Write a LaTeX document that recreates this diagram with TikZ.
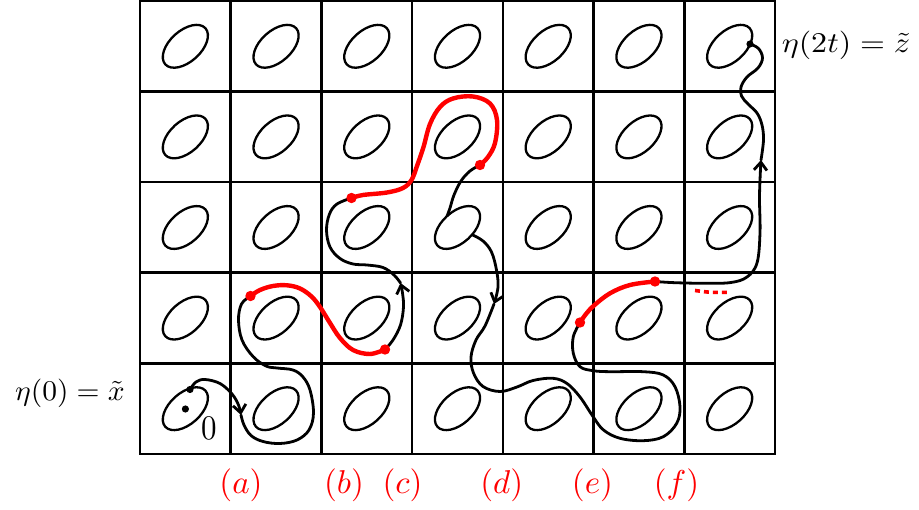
\documentclass[tikz,border=0pt]{standalone}
\usepackage{graphicx}
\usetikzlibrary{arrows.meta}
\tikzset{
  gridline/.style={line width=2.6pt, line cap=rect},
  cellell/.style={line width=2.3pt},
  trk/.style={line width=2.8pt, line cap=round, line join=round},
  redtrk/.style={line width=4.4pt, red, line cap=round, line join=round},
  barb/.style={-{Straight Barb[length=8pt,width=13pt]}},
  lab/.style={inner sep=0pt},
  redlab/.style={inner sep=0pt, text=red},
}
\begin{document}
\begin{tikzpicture}[x=1pt,y=-1pt]
\useasboundingbox (0,0) rectangle (919,510);
% grid
\draw[gridline] (140,1) rectangle (775,454);
\foreach \i in {1,...,6} \draw[gridline] ({140+90.714*\i},1) -- ({140+90.714*\i},454);
\foreach \j in {1,...,4} \draw[gridline] (140,{1+90.6*\j}) -- (775,{1+90.6*\j});
% ellipses (obstacles)
\foreach \i in {0,...,6} {
  \foreach \j in {0,...,4} {
    \pgfmathsetmacro\cx{140+90.714*(\i+0.5)}
    \pgfmathsetmacro\cy{1+90.6*(\j+0.5)}
    \draw[cellell, rotate around={42:(\cx,\cy)}] (\cx,\cy) ellipse [x radius=27pt, y radius=15.5pt];
  }
}
% key points
\coordinate (ctr) at (185.4,409);
\coordinate (p0) at (190,389.5);
\coordinate (a1) at (241,415);
\coordinate (r1) at (250.5,296);
\coordinate (r2) at (385,349.5);
\coordinate (a2) at (400.5,283);
\coordinate (r3) at (351.5,198);
\coordinate (r4) at (480,165);
\coordinate (lp) at (447.1,216);
\coordinate (lq) at (472.1,234.7);
\coordinate (a3) at (494,304);
\coordinate (r5) at (580,322.5);
\coordinate (r6) at (655,281.5);
\coordinate (a4) at (761,160);
\coordinate (pe) at (750,44);
% black segment from start
\draw[trk,barb] plot[smooth,tension=0.6] coordinates {(p0) (196,382) (205,379.5) (220,383.5) (232,394) (238.5,405) (a1)};
\draw[trk] plot[smooth,tension=0.6] coordinates {(a1) (244,425) (251,435.5) (263,441.5) (280,443.5) (297,440) (309,430) (313.5,413) (310,390) (303,377) (293,370) (277,368) (266,366) (253,356.5) (242,340) (238.5,320) (241.5,304) (r1)};
% red (a)-(b)
\draw[redtrk] plot[smooth,tension=0.6] coordinates {(r1) (260,290) (273,286) (287,285.3) (300,288.5) (311.5,296.5) (320,307) (330,323) (340,338) (353,350) (370,354) (r2)};
% black with up arrow
\draw[trk,barb] plot[smooth,tension=0.6] coordinates {(r2) (393,340) (400.5,325) (403.5,307) (402.5,293) (a2)};
\draw[trk] plot[smooth,tension=0.6] coordinates {(a2) (394,275) (383,267.5) (367,265) (353,264) (340,258.5) (330,247) (326.5,230) (329.5,214) (337,204) (r3)};
% red (c)
\draw[redtrk] plot[smooth,tension=0.6] coordinates {(r3) (363,195) (387,192.5) (403,188) (411.5,180) (417,166) (423.5,147) (430,124) (440,107) (453,98.5) (473,96.5) (490,103.5) (497,120) (495,143) (488,157) (r4)};
% black: down to the obstacle, around it, and away
\draw[trk] plot[smooth,tension=0.6] coordinates {(r4) (470,171) (461,181) (454,195) (450,208) (lp)};
\draw[trk,barb] plot[smooth,tension=0.6] coordinates {(lq) (483,241) (491.5,252) (496.5,270) (498,287) (a3)};
\draw[trk] plot[smooth,tension=0.6] coordinates {(a3) (485,326) (476,340) (471,357) (473.5,373) (483,386.5) (500,391.5) (517,387) (533,380.5) (553,378.3) (567,383.5) (580,397) (593,416.5) (603.5,430) (620,438.3) (643.3,440.7) (663.3,436.7) (676.7,423.3) (680,406.7) (675,386.7) (663.3,375) (643.3,371.7) (610,371.7) (593.3,370.7) (580,366.7) (573.3,353.3) (573.3,336.7) (r5)};
% red (e)
\draw[redtrk] plot[smooth,tension=0.6] coordinates {(r5) (586,314) (594,305.5) (610,293.3) (630,285) (r6)};
% black to end
\draw[trk,barb] plot[smooth,tension=0.6] coordinates {(r6) (675,282.7) (706,283.3) (731,282.5) (747,277) (757,263) (760,233) (759.5,200) (760,180) (a4)};
\draw[trk] plot[smooth,tension=0.6] coordinates {(a4) (763.5,140) (762,125) (757,113) (748,104) (741.5,96) (741,87) (747,77) (758,68) (762.5,58) (758.5,48.5) (pe)};
% red dotted
\draw[red, line width=3.6pt, dash pattern=on 5pt off 4pt] (695,290.5) .. controls (710,292.5) .. (728,292.3);
% dots
\fill (ctr) circle (3.6pt);
\fill (p0) circle (3.6pt);
\fill (pe) circle (3.6pt);
\foreach \p in {r1,r2,r3,r4,r5,r6} \fill[red] (\p) circle (5.2pt);
% labels
\node[lab] (lx) at (70,393) {\scalebox{2.95}[2.86]{$\eta(0)=\tilde{x}$}};
\node[lab] (lz) at (846,45) {\scalebox{3.2}[2.86]{$\eta(2t)=\tilde{z}$}};
\node[lab] (l0) at (209,428) {\scalebox{3.1}[3.45]{0}};
\node[redlab] (la) at (241,485.5) {\scalebox{3.3}[3.3]{$(a)$}};
\node[redlab] (lb) at (344,485.5) {\scalebox{3.3}[3.3]{$(b)$}};
\node[redlab] (lc) at (402.5,485.5) {\scalebox{3.3}[3.3]{$(c)$}};
\node[redlab] (ld) at (501.7,485.5) {\scalebox{3.3}[3.3]{$(d)$}};
\node[redlab] (le) at (592.5,485.5) {\scalebox{3.3}[3.3]{$(e)$}};
\node[redlab] (lf) at (676.5,485.5) {\scalebox{3.3}[3.3]{$(f)$}};
\end{tikzpicture}
\end{document}
